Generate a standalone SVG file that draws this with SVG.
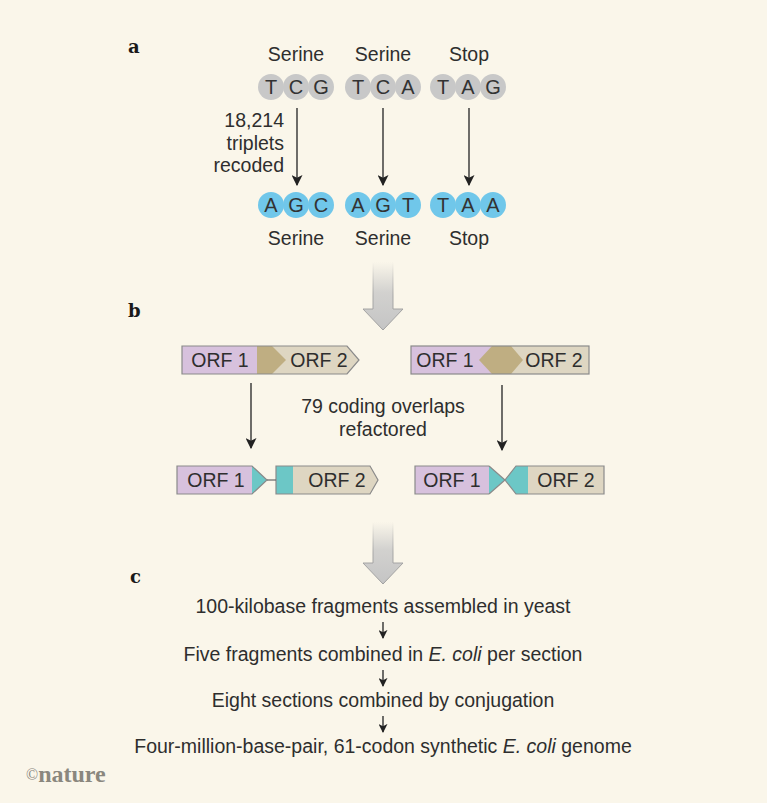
<svg xmlns="http://www.w3.org/2000/svg" width="767" height="803" viewBox="0 0 767 803">
<defs>
<style>
.t{font-family:"Liberation Sans",Arial,sans-serif;font-size:19.5px;fill:#2e2e2e}
.c{text-anchor:middle}
.lbl{font-family:"DejaVu Serif",serif;font-weight:bold;font-size:18px;fill:#1a1a1a}
.g{fill:#c8c8c8}
.b{fill:#70c7ea}
.cl{font-family:"Liberation Sans",Arial,sans-serif;font-size:20px;fill:#333;text-anchor:middle}
.ln{stroke:#222;stroke-width:1.3;fill:none}
.box{stroke:#8a8a8a;stroke-width:1.2}
.pur{fill:#d7c1dd}
.tan{fill:#ded6c2}
.dtan{fill:#bfae82}
.teal{fill:#6cc7c6}
</style>
<marker id="ah" viewBox="0 0 10 10" refX="9" refY="5" markerWidth="9" markerHeight="9" markerUnits="userSpaceOnUse" orient="auto">
<path d="M0,0 L10,5 L0,10 L2.5,5 z" fill="#222"/>
</marker>
<marker id="ah2" viewBox="0 0 10 10" refX="9" refY="5" markerWidth="11" markerHeight="11" markerUnits="userSpaceOnUse" orient="auto">
<path d="M0,0 L10,5 L0,10 L2.5,5 z" fill="#222"/>
</marker>
<linearGradient id="fa" x1="0" y1="0" x2="0" y2="1">
<stop offset="0" stop-color="#c8c8c8" stop-opacity="0"/>
<stop offset="0.45" stop-color="#c8c8c8" stop-opacity="0.8"/>
<stop offset="1" stop-color="#c4c4c4"/>
</linearGradient>
<linearGradient id="fs" x1="0" y1="0" x2="0" y2="1">
<stop offset="0" stop-color="#a0a0a0" stop-opacity="0"/>
<stop offset="0.5" stop-color="#a0a0a0" stop-opacity="0.9"/>
<stop offset="1" stop-color="#a0a0a0"/>
</linearGradient>
</defs>
<rect width="767" height="803" fill="#faf6ea"/>

<text class="lbl" x="128" y="53">a</text>
<text class="lbl" x="128" y="317">b</text>
<text class="lbl" x="130" y="583">c</text>

<g id="top-labels">
<text class="t c" x="296" y="61">Serine</text>
<text class="t c" x="383" y="61">Serine</text>
<text class="t c" x="469" y="61">Stop</text>
</g>

<g id="codon-TCG">
<circle class="g" cx="271" cy="87" r="13"/><circle class="g" cx="296" cy="87" r="13"/><circle class="g" cx="321" cy="87" r="13"/>
<text class="cl" x="271" y="94">T</text><text class="cl" x="296" y="94">C</text><text class="cl" x="321" y="94">G</text>
</g>
<g id="codon-TCA">
<circle class="g" cx="358" cy="87" r="13"/><circle class="g" cx="383" cy="87" r="13"/><circle class="g" cx="408" cy="87" r="13"/>
<text class="cl" x="358" y="94">T</text><text class="cl" x="383" y="94">C</text><text class="cl" x="408" y="94">A</text>
</g>
<g id="codon-TAG">
<circle class="g" cx="443" cy="87" r="13"/><circle class="g" cx="468" cy="87" r="13"/><circle class="g" cx="493" cy="87" r="13"/>
<text class="cl" x="443" y="94">T</text><text class="cl" x="468" y="94">A</text><text class="cl" x="493" y="94">G</text>
</g>

<g id="recoded-label">
<text class="t" text-anchor="end" x="284" y="127">18,214</text>
<text class="t" text-anchor="end" x="284" y="150">triplets</text>
<text class="t" text-anchor="end" x="284" y="172">recoded</text>
</g>

<g id="codon-AGC">
<circle class="b" cx="271" cy="205" r="13"/><circle class="b" cx="296" cy="205" r="13"/><circle class="b" cx="321" cy="205" r="13"/>
<text class="cl" x="271" y="212">A</text><text class="cl" x="296" y="212">G</text><text class="cl" x="321" y="212">C</text>
</g>
<g id="codon-AGT">
<circle class="b" cx="358" cy="205" r="13"/><circle class="b" cx="383" cy="205" r="13"/><circle class="b" cx="408" cy="205" r="13"/>
<text class="cl" x="358" y="212">A</text><text class="cl" x="383" y="212">G</text><text class="cl" x="408" y="212">T</text>
</g>
<g id="codon-TAA">
<circle class="b" cx="443" cy="205" r="13"/><circle class="b" cx="468" cy="205" r="13"/><circle class="b" cx="493" cy="205" r="13"/>
<text class="cl" x="443" y="212">T</text><text class="cl" x="468" y="212">A</text><text class="cl" x="493" y="212">A</text>
</g>

<g id="bottom-labels">
<text class="t c" x="296" y="245">Serine</text>
<text class="t c" x="383" y="245">Serine</text>
<text class="t c" x="469" y="245">Stop</text>
</g>

<g id="big-arrows">
<path d="M373,262 L393,262 L393,309 L403,309 L383,330 L363,309 L373,309 Z" fill="url(#fa)" stroke="url(#fs)" stroke-width="1"/>
<path d="M373,522 L393,522 L393,563 L403,563 L383,584 L363,563 L373,563 Z" fill="url(#fa)" stroke="url(#fs)" stroke-width="1"/>
</g>

<g id="orf-top-left">
<rect class="pur" x="182" y="346" width="75" height="28"/>
<path class="tan" d="M257,346 L347,346 L359,360 L347,374 L257,374 Z"/>
<path class="dtan" d="M257,346 L272,346 L286,360 L272,374 L257,374 Z"/>
<path class="box" fill="none" d="M182,346 L347,346 L359,360 L347,374 L182,374 Z"/>
<text class="t c" x="220" y="367">ORF 1</text>
<text class="t c" x="319" y="367">ORF 2</text>
</g>

<g id="orf-top-right">
<rect class="pur" x="411" y="346" width="81" height="28"/>
<rect class="tan" x="492" y="346" width="97" height="28"/>
<path class="dtan" d="M479,360 L492,346 L511,346 L523,360 L511,374 L492,374 Z"/>
<rect class="box" fill="none" x="411" y="346" width="178" height="28"/>
<text class="t c" x="445" y="367">ORF 1</text>
<text class="t c" x="554" y="367">ORF 2</text>
</g>

<text class="t c" x="383" y="413">79 coding overlaps</text>
<text class="t c" x="383" y="436">refactored</text>

<g id="orf-bottom-left">
<rect class="pur" x="177" y="466" width="75" height="28"/>
<path class="teal" d="M252,466 L267,480 L252,494 Z"/>
<path class="box" fill="none" d="M177,466 L252,466 L267,480 L252,494 L177,494 Z"/>
<path class="tan" d="M293,466 L370,466 L378,480 L370,494 L293,494 Z"/>
<rect class="teal" x="276" y="466" width="17" height="28"/>
<path class="box" fill="none" d="M276,466 L370,466 L378,480 L370,494 L276,494 Z"/>
<line x1="267" y1="480" x2="276" y2="480" stroke="#666" stroke-width="1.2"/>
<text class="t c" x="216" y="487">ORF 1</text>
<text class="t c" x="337" y="487">ORF 2</text>
</g>

<g id="orf-bottom-right">
<rect class="pur" x="415" y="466" width="74" height="28"/>
<path class="teal" d="M489,466 L505,480 L489,494 Z"/>
<path class="box" fill="none" d="M489,466 L415,466 L415,494 L489,494"/>
<path class="box" fill="none" d="M489,466 L505,480 L489,494"/>
<path class="teal" d="M505,480 L516,466 L528,466 L528,494 L516,494 Z"/>
<rect class="tan" x="528" y="466" width="76" height="28"/>
<path class="box" fill="none" d="M516,466 L604,466 L604,494 L516,494 L505,480 Z"/>
<text class="t c" x="452" y="487">ORF 1</text>
<text class="t c" x="566" y="487">ORF 2</text>
</g>

<g id="connectors">
<line class="ln" x1="297" y1="108" x2="297" y2="185" marker-end="url(#ah2)"/>
<line class="ln" x1="383" y1="108" x2="383" y2="185" marker-end="url(#ah2)"/>
<line class="ln" x1="469" y1="108" x2="469" y2="185" marker-end="url(#ah2)"/>
<line class="ln" x1="251" y1="383" x2="251" y2="448" marker-end="url(#ah2)"/>
<line class="ln" x1="502" y1="385" x2="502" y2="450" marker-end="url(#ah2)"/>
<line class="ln" x1="383" y1="622" x2="383" y2="638" marker-end="url(#ah)"/>
<line class="ln" x1="383" y1="670" x2="383" y2="686" marker-end="url(#ah)"/>
<line class="ln" x1="383" y1="716" x2="383" y2="732" marker-end="url(#ah)"/>
</g>

<g id="steps">
<text class="t c" x="383" y="613">100-kilobase fragments assembled in yeast</text>
<text class="t c" x="383" y="661">Five fragments combined in <tspan font-style="italic">E. coli</tspan> per section</text>
<text class="t c" x="383" y="707">Eight sections combined by conjugation</text>
<text class="t c" x="383" y="753">Four-million-base-pair, 61-codon synthetic <tspan font-style="italic">E. coli</tspan> genome</text>
</g>

<text x="26" y="782" font-family="'Liberation Serif','Times New Roman',serif" font-weight="bold" font-size="24" fill="#8a877e"><tspan font-size="16" font-weight="normal" dy="-2">©</tspan><tspan dy="2">nature</tspan></text>
</svg>
